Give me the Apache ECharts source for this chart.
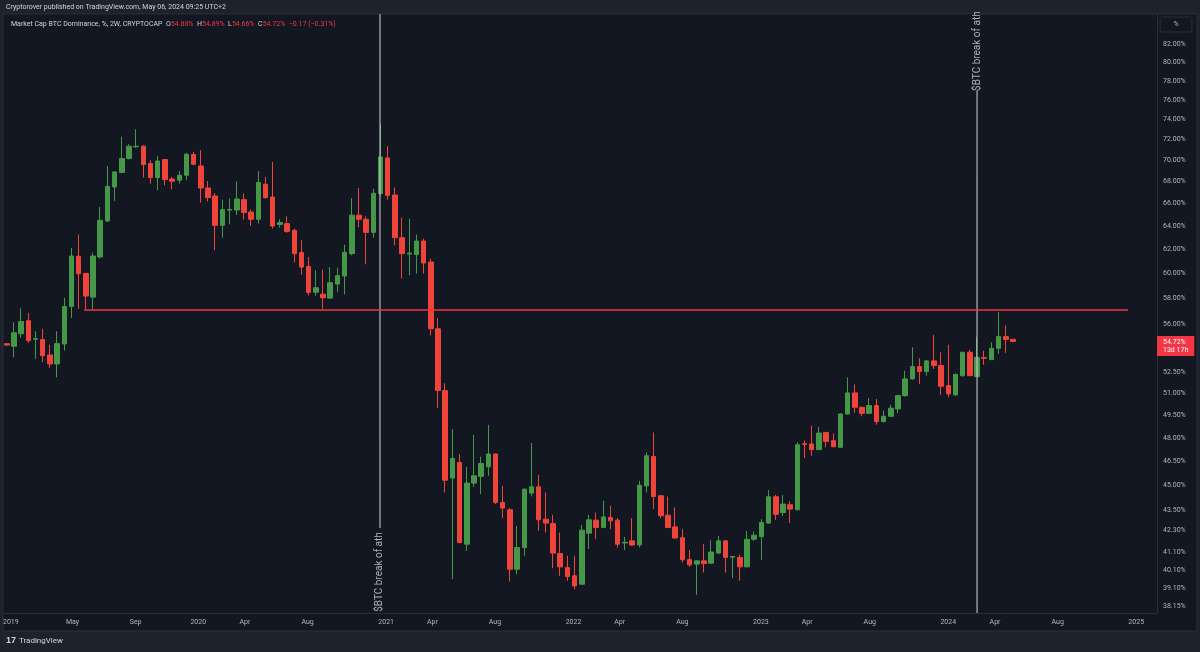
<!DOCTYPE html>
<html><head><meta charset="utf-8">
<script src="https://cdn.jsdelivr.net/npm/echarts@6/dist/echarts.min.js"></script>
<style>html,body{margin:0;padding:0;background:#1e222d;}#c{width:1200px;height:652px;}</style>
</head><body><div id="c"></div>
<script>
// ---- data (2W bars, Market Cap BTC Dominance %) ----
const firstBarDate = '2018-12-24';
const barDays = 14;
const opens = [54.55,54.36,55.29,56.28,54.88,54.86,53.72,53.07,54.53,57.38,61.44,60.02,58.12,61.38,64.46,67.51,68.85,70.18,71.30,71.36,69.70,68.38,70.08,68.25,68.13,68.60,70.56,69.47,67.42,66.69,64.08,65.42,65.43,66.36,65.25,64.61,67.76,66.60,64.15,64.23,63.64,61.75,60.60,58.51,58.35,58.04,59.16,59.81,61.66,64.97,64.61,63.47,66.91,70.23,66.78,63.01,61.62,61.58,62.73,60.96,55.67,51.18,45.44,46.41,41.53,45.13,45.54,46.14,46.95,43.96,43.52,40.14,41.34,44.52,44.90,42.97,42.72,41.01,40.23,39.78,39.33,42.16,42.91,42.48,43.06,42.91,41.60,41.72,41.49,44.96,46.79,44.36,43.20,42.52,41.90,40.67,40.42,40.60,40.47,41.03,41.72,40.80,40.79,40.27,41.81,41.96,42.74,44.30,43.36,43.82,43.52,47.61,47.60,47.23,48.35,47.81,47.38,49.58,51.02,50.03,49.62,50.15,49.06,49.42,49.92,50.83,52.00,52.88,52.52,53.29,52.95,51.53,50.88,52.23,53.92,52.16,53.53,53.38,54.21,55.08,54.88];
const closes = [54.45,55.37,56.22,54.78,54.92,53.67,53.07,54.56,57.38,61.46,60.00,58.20,61.46,64.52,67.57,68.91,70.18,71.36,71.36,69.60,68.38,69.94,68.20,68.04,68.60,70.59,69.63,67.42,66.54,64.08,65.46,65.48,66.42,65.20,64.61,67.92,66.54,64.02,64.32,63.55,61.66,60.54,58.49,58.87,58.07,59.27,59.84,61.77,64.97,64.61,63.47,66.93,70.33,66.75,63.01,61.66,61.70,62.73,60.88,55.67,51.18,45.31,46.67,41.62,45.13,45.58,46.35,46.95,43.96,43.62,40.14,41.34,44.76,44.90,42.93,42.74,41.03,40.27,39.74,39.24,42.33,42.93,42.48,43.10,42.87,41.53,41.64,41.48,45.00,46.84,44.31,43.17,42.48,41.88,40.66,40.38,40.60,40.45,41.09,41.72,40.79,40.84,40.27,41.81,42.04,42.77,44.30,43.26,43.86,43.56,47.55,47.56,47.23,48.31,47.76,47.42,49.58,51.02,50.03,49.62,50.15,49.06,49.42,49.97,50.83,52.00,52.88,52.52,53.29,52.95,51.48,50.95,52.31,53.92,52.23,53.55,53.48,54.21,55.08,54.86,54.72];
const lows = [54.40,53.55,54.99,54.61,53.43,53.19,52.78,52.11,54.04,56.50,57.20,57.15,57.15,61.24,64.37,66.24,68.80,70.08,71.20,68.38,67.82,67.21,67.67,67.30,67.82,68.13,69.53,66.09,66.21,61.94,63.01,64.17,64.99,64.58,64.02,64.23,66.45,63.79,63.88,63.44,60.91,59.92,58.25,58.22,57.15,57.99,58.51,58.33,61.52,63.91,60.77,63.01,66.75,66.36,62.36,59.60,59.87,60.00,60.00,55.16,49.99,44.56,39.60,41.60,41.16,44.90,44.46,45.58,43.86,43.03,39.47,39.87,40.88,44.32,42.29,42.19,40.20,39.78,39.51,39.06,39.29,41.26,41.82,42.45,42.39,41.34,41.20,41.44,41.34,44.56,43.56,43.03,42.46,41.86,40.51,40.27,38.76,39.96,40.45,40.99,39.96,39.65,39.51,40.25,41.72,40.64,42.72,42.93,43.17,42.74,43.50,46.69,46.84,47.21,47.38,47.38,47.34,49.53,49.65,49.42,49.58,48.86,49.02,49.40,49.63,50.76,51.95,51.65,52.23,52.71,50.88,50.72,50.83,52.16,52.20,52.11,53.00,53.36,53.79,53.87,54.66];
const highs = [54.60,56.17,57.24,56.89,55.49,55.66,54.48,55.49,58.07,62.13,63.29,60.05,61.75,65.70,69.47,68.95,72.28,71.56,73.03,71.46,70.01,70.43,70.10,68.44,69.00,70.72,70.82,70.98,68.06,66.96,66.36,66.46,68.04,66.91,65.46,68.98,68.44,69.85,64.61,64.87,63.79,62.79,61.38,60.27,60.33,60.54,60.49,62.42,66.50,67.42,64.87,67.36,73.61,71.36,67.46,64.76,64.67,63.29,62.93,61.24,56.50,51.69,48.57,46.95,46.14,48.20,46.78,48.85,46.99,44.96,43.62,42.58,44.78,47.66,45.64,44.56,43.22,42.19,40.88,40.88,42.64,43.22,43.36,44.06,43.76,43.03,41.94,43.03,45.27,47.05,48.35,44.40,44.31,43.66,42.39,41.20,40.62,41.53,41.76,42.00,41.74,40.86,40.94,42.29,42.25,42.97,44.70,44.42,44.40,44.02,47.70,47.81,48.80,48.72,48.37,48.29,49.60,52.11,51.60,50.08,50.67,50.60,49.80,50.21,50.89,52.59,54.28,53.48,53.36,55.21,53.92,54.48,52.40,53.94,54.09,55.08,54.04,54.65,56.94,55.92,54.89];

const priceTicks = [82,80,78,76,74,72,70,68,66,64,62,60,58,56,52.5,51,49.5,48,46.5,45,43.5,42.3,41.1,40.1,39.1,38.15];
const timeTicks = ['2019-01-01','2019-05-01','2019-09-01','2020-01-01','2020-04-01','2020-08-01','2021-01-01','2021-04-01','2021-08-01','2022-01-01','2022-04-01','2022-08-01','2023-01-01','2023-04-01','2023-08-01','2024-01-01','2024-04-01','2024-08-01','2025-01-01'];
const monthNames = ['Jan','Feb','Mar','Apr','May','Jun','Jul','Aug','Sep','Oct','Nov','Dec'];

const supportLevel = 57.15;
const supportFrom = '2019-05-24';
const supportTo = '2024-12-16';
const athBreakText = '$BTC break of ath';
const athBreaks = [
  {date: '2020-12-20', lineFrom: 85.42, lineTo: 42.46, textAt: 39.99},
  {date: '2024-02-26', lineFrom: 77.02, lineTo: 37.82, textAt: 81.22}
];
const yMin = 37.82, yMax = 85.42;
const timeMin = '2018-12-18T18:00:00Z', timeMax = '2025-02-10T12:00:00Z';
const changeText = '\u22120.17 (\u22120.31%)';
const timeLeft = '13d 17h';

// ---- build ----
const DAY = 86400000;
const t0 = Date.parse(firstBarDate + 'T00:00:00Z');
const ts = s => Date.parse(s.length === 10 ? s + 'T00:00:00Z' : s);
const L = Math.log;
const candles = opens.map((o, i) => [t0 + i * barDays * DAY, L(o), L(closes[i]), L(lows[i]), L(highs[i])]);
const last = opens.length - 1;

const GREEN = '#459848', RED = '#f0433a', LINE_RED = '#f23645', ANN = '#d1d4dc';
const TXT = '#b2b5be';
const FONT = 'Roboto';
const FS = 7;

const series = [{
  type: 'candlestick',
  data: candles,
  barWidth: 5,
  itemStyle: {color: GREEN, color0: RED, borderColor: GREEN, borderColor0: RED, borderWidth: 1},
  markLine: {
    silent: true, symbol: 'none', animation: false,
    lineStyle: {color: 'rgba(0,0,0,0)', width: 0},
    label: {show: true, position: 'end', distance: 0, offset: [0, 3], backgroundColor: LINE_RED, color: '#ffffff',
      fontFamily: FONT, fontSize: FS, lineHeight: 8, padding: [2, 6, 2, 6],
      formatter: () => closes[last].toFixed(2) + '%\n' + timeLeft},
    data: [{yAxis: L(closes[last])}]
  }
}, {
  type: 'line', symbol: 'none', silent: true,
  data: [],
  markLine: {
    silent: true, symbol: 'none', animation: false,
    label: {show: false},
    lineStyle: {color: LINE_RED, width: 1.5, type: 'solid', opacity: 1},
    data: [[{coord: [ts(supportFrom), L(supportLevel)]}, {coord: [ts(supportTo), L(supportLevel)]}]]
  }
}];
athBreaks.forEach(a => {
  series.push({
    type: 'line', symbol: 'none', silent: true,
    color: ANN,
    data: [[ts(a.date), L(a.lineFrom)], [ts(a.date), L(a.lineTo)]],
    lineStyle: {color: ANN, width: 1}
  });
  series.push({
    type: 'scatter', silent: true, symbolSize: 1, itemStyle: {color: 'rgba(0,0,0,0)'},
    data: [[ts(a.date), L(a.textAt)]],
    label: {show: true, position: 'inside', rotate: 90, color: ANN, fontFamily: FONT, fontSize: 10,
      formatter: () => athBreakText}
  });
});

const chart = echarts.init(document.getElementById('c'), null, {renderer: 'canvas'});
chart.setOption({
  animation: false,
  backgroundColor: '#1e222d',
  title: [{
    text: 'Cryptorover published on TradingView.com, May 06, 2024 09:25 UTC+2',
    left: 6, top: 4, padding: 0,
    textStyle: {color: '#d1d4dc', fontSize: FS, fontWeight: 'normal', fontFamily: FONT}
  }, {
    text: 'Market Cap BTC Dominance, %, 2W, CRYPTOCAP  O{r|' + opens[last].toFixed(2) + '%}  H{r|' + highs[last].toFixed(2) +
      '%}  L{r|' + lows[last].toFixed(2) + '%}  C{r|' + closes[last].toFixed(2) + '%}  {r|' + changeText + '}',
    left: 11, top: 21, padding: 0,
    textStyle: {color: '#d1d4dc', fontSize: FS, fontWeight: 'normal', fontFamily: FONT,
      rich: {r: {color: LINE_RED, fontSize: FS, fontFamily: FONT}}}
  }],
  graphic: [
    {type: 'rect', shape: {x: 3, y: 14, width: 1194, height: 617}, style: {fill: '#131722', stroke: '#2a2e39', lineWidth: 1}, z: -10, silent: true},
    {type: 'rect', shape: {x: 1160, y: 17, width: 32, height: 15, r: 2}, style: {fill: '#131722', stroke: '#2a2e39', lineWidth: 1}, silent: true},
    {type: 'text', x: 1176, y: 24.5, style: {text: '%', fill: TXT, fontSize: FS, fontFamily: FONT, align: 'center', verticalAlign: 'middle'}, silent: true},
    {type: 'text', x: 6, y: 641, style: {text: '17', fill: '#d1d4dc', fontSize: 9, fontWeight: 'bold', fontFamily: 'Liberation Sans', verticalAlign: 'middle'}, silent: true},
    {type: 'text', x: 19, y: 641, style: {text: 'TradingView', fill: '#d1d4dc', fontSize: 8, fontFamily: FONT, verticalAlign: 'middle'}, silent: true}
  ],
  grid: {left: 4, right: 43, top: 14, bottom: 39, containLabel: false, show: false},
  xAxis: {
    type: 'value', min: ts(timeMin), max: ts(timeMax),
    axisLine: {show: true, lineStyle: {color: '#2a2e39'}},
    axisTick: {show: false},
    splitLine: {show: false},
    axisLabel: {
      customValues: timeTicks.map(ts), color: TXT, fontSize: FS, fontFamily: FONT, margin: 6,
      formatter: v => { const d = new Date(v); const m = d.getUTCMonth(); return m === 0 ? String(d.getUTCFullYear()) : monthNames[m]; }
    }
  },
  yAxis: {
    type: 'value', position: 'right', min: L(yMin), max: L(yMax),
    axisLine: {show: true, lineStyle: {color: '#2a2e39'}},
    axisTick: {show: false},
    splitLine: {show: false},
    axisLabel: {
      customValues: priceTicks.map(L), color: TXT, fontSize: FS, fontFamily: FONT, margin: 6,
      formatter: v => Math.exp(v).toFixed(2) + '%'
    }
  },
  series: series
});
</script>
</body></html>
